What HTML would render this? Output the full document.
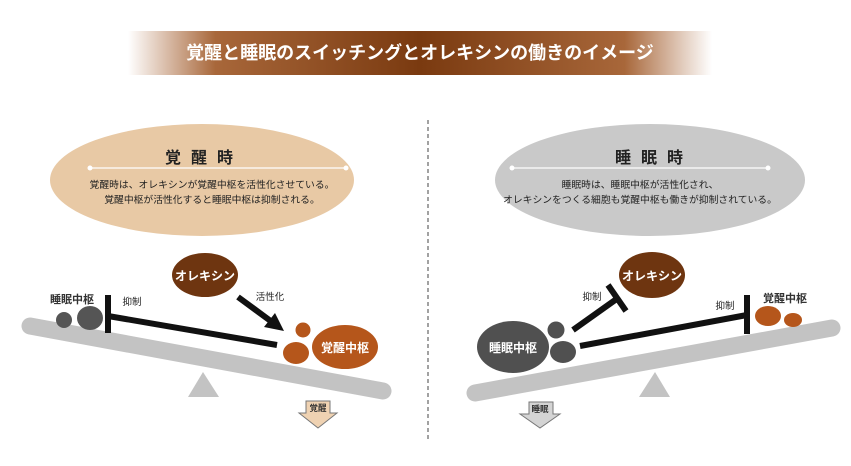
<!DOCTYPE html>
<html><head><meta charset="utf-8"><style>
body{margin:0;background:#fff}
svg{display:block;font-family:"Liberation Sans","Noto Sans CJK JP",sans-serif}
</style></head><body>
<svg width="851" height="466" viewBox="0 0 851 466">
<defs>
<linearGradient id="hg" x1="0" x2="1" y1="0" y2="0">
<stop offset="0" stop-color="#fff"/>
<stop offset="0.15" stop-color="#a8673a"/>
<stop offset="0.5" stop-color="#7a3a10"/>
<stop offset="0.85" stop-color="#a8673a"/>
<stop offset="1" stop-color="#fff"/>
</linearGradient>
</defs>
<rect x="128" y="31" width="584" height="44" fill="url(#hg)"/>
<text x="420" y="59" font-size="18" font-weight="bold" fill="#fff" text-anchor="middle">覚醒と睡眠のスイッチングとオレキシンの働きのイメージ</text>

<line x1="428" y1="120" x2="428" y2="442" stroke="#444" stroke-width="1" stroke-dasharray="4,3"/>

<ellipse cx="202" cy="180" rx="152" ry="56" fill="#e8c9a5"/>
<text x="204" y="163" font-size="16" font-weight="bold" fill="#222" text-anchor="middle" letter-spacing="10">覚醒時</text>
<line x1="90" y1="168" x2="346" y2="168" stroke="#fff" stroke-width="1.2"/>
<circle cx="90" cy="168" r="2.5" fill="#fff"/><circle cx="346" cy="168" r="2.5" fill="#fff"/>
<text x="212" y="188" font-size="9.8" fill="#222" text-anchor="middle">覚醒時は、オレキシンが覚醒中枢を活性化させている。</text>
<text x="212" y="203" font-size="9.8" fill="#222" text-anchor="middle">覚醒中枢が活性化すると睡眠中枢は抑制される。</text>

<ellipse cx="650" cy="180" rx="155" ry="56" fill="#c9c9c9"/>
<text x="654" y="163" font-size="16" font-weight="bold" fill="#222" text-anchor="middle" letter-spacing="10">睡眠時</text>
<line x1="512" y1="168" x2="768" y2="168" stroke="#fff" stroke-width="1.2"/>
<circle cx="512" cy="168" r="2.5" fill="#fff"/><circle cx="768" cy="168" r="2.5" fill="#fff"/>
<text x="640" y="188" font-size="9.8" fill="#222" text-anchor="middle">睡眠時は、睡眠中枢が活性化され、</text>
<text x="640" y="203" font-size="9.8" fill="#222" text-anchor="middle">オレキシンをつくる細胞も覚醒中枢も働きが抑制されている。</text>

<!-- left seesaw -->
<line x1="30" y1="326" x2="383" y2="391" stroke="#c3c3c3" stroke-width="17" stroke-linecap="round"/>
<polygon points="203,372 188,397 219,397" fill="#c3c3c3"/>
<circle cx="64" cy="320" r="8" fill="#555"/>
<ellipse cx="90" cy="318" rx="13" ry="12" fill="#555"/>
<text x="72" y="303" font-size="11" font-weight="bold" fill="#333" text-anchor="middle">睡眠中枢</text>
<line x1="108" y1="316" x2="277" y2="345" stroke="#111" stroke-width="6"/>
<line x1="108" y1="295" x2="108" y2="333" stroke="#111" stroke-width="6"/>
<text x="132" y="305" font-size="9.5" fill="#222" text-anchor="middle">抑制</text>
<ellipse cx="205" cy="275" rx="33" ry="22" fill="#6e3510"/>
<text x="205" y="280" font-size="12" font-weight="bold" fill="#fff" text-anchor="middle">オレキシン</text>
<line x1="238" y1="297" x2="272" y2="322" stroke="#111" stroke-width="6"/>
<polygon points="284,331 264,327 275,313" fill="#111"/>
<text x="270" y="300" font-size="9.5" fill="#222" text-anchor="middle">活性化</text>
<circle cx="303" cy="330" r="7.5" fill="#b5561b"/>
<ellipse cx="296" cy="353" rx="13" ry="11" fill="#b5561b"/>
<ellipse cx="345" cy="347" rx="33" ry="22" fill="#b5561b"/>
<text x="345" y="352" font-size="12" font-weight="bold" fill="#fff" text-anchor="middle">覚醒中枢</text>
<polygon points="306,401 330,401 330,413 337,413 318,428 299,413 306,413" fill="#efd2b2" stroke="#777" stroke-width="1"/>
<text x="318" y="411" font-size="8.5" font-weight="bold" fill="#333" text-anchor="middle">覚醒</text>

<!-- right seesaw -->
<line x1="475" y1="393" x2="832" y2="328" stroke="#c3c3c3" stroke-width="17" stroke-linecap="round"/>
<polygon points="655,372 639,397 670,397" fill="#c3c3c3"/>
<ellipse cx="513" cy="347" rx="36" ry="26" fill="#505050"/>
<text x="513" y="352" font-size="12" font-weight="bold" fill="#fff" text-anchor="middle">睡眠中枢</text>
<circle cx="556" cy="330" r="8.5" fill="#505050"/>
<ellipse cx="563" cy="352" rx="13" ry="11" fill="#505050"/>
<ellipse cx="652" cy="275" rx="33" ry="23" fill="#6e3510"/>
<text x="652" y="280" font-size="12" font-weight="bold" fill="#fff" text-anchor="middle">オレキシン</text>
<line x1="573" y1="330" x2="618" y2="298" stroke="#111" stroke-width="6"/>
<line x1="608" y1="285" x2="626" y2="311" stroke="#111" stroke-width="6"/>
<text x="592" y="300" font-size="9.5" fill="#222" text-anchor="middle">抑制</text>
<line x1="580" y1="346" x2="747" y2="315" stroke="#111" stroke-width="6"/>
<line x1="747" y1="295" x2="747" y2="334" stroke="#111" stroke-width="6"/>
<text x="725" y="309" font-size="9.5" fill="#222" text-anchor="middle">抑制</text>
<text x="785" y="302" font-size="11" font-weight="bold" fill="#333" text-anchor="middle">覚醒中枢</text>
<ellipse cx="768" cy="316" rx="13" ry="10" fill="#b5561b"/>
<ellipse cx="793" cy="320" rx="9" ry="7" fill="#b5561b"/>
<polygon points="529,402 553,402 553,414 560,414 540,428 520,414 529,414" fill="#d4d4d4" stroke="#777" stroke-width="1"/>
<text x="540" y="412" font-size="8.5" font-weight="bold" fill="#333" text-anchor="middle">睡眠</text>
</svg>
</body></html>
